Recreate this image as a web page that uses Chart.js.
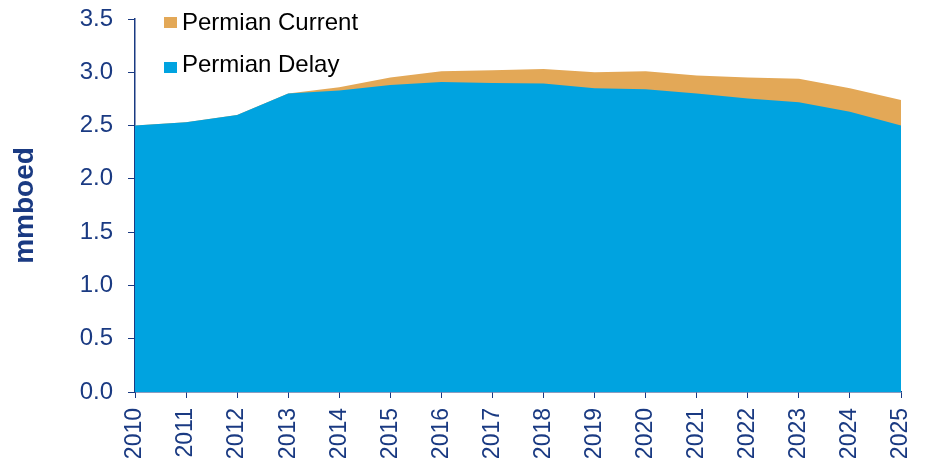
<!DOCTYPE html>
<html>
<head>
<meta charset="utf-8">
<script src="https://cdn.jsdelivr.net/npm/chart.js@4"></script>
<style>
  html, body { margin: 0; padding: 0; background: #fff; }
  #wrap { position: relative; width: 926px; height: 476px; }
  .leyenda { position: absolute; left: 164px; font-family: "Liberation Sans", Arial, sans-serif; font-size: 24px; color: #000; }
  .leyenda span.caja { position: absolute; left: 0; width: 13px; height: 11px; }
  .leyenda span.txt { position: absolute; left: 18px; white-space: nowrap; line-height: 26px; }
</style>
</head>
<body>
<div id="wrap">
  <canvas id="grafico" width="926" height="476"></canvas>
  <div class="leyenda" style="top:9px">
    <span class="caja" style="top:8px; background:#E3A857"></span>
    <span class="txt" style="top:0">Permian Current</span>
  </div>
  <div class="leyenda" style="top:51px">
    <span class="caja" style="top:11px; background:#00A3E0"></span>
    <span class="txt" style="top:0">Permian Delay</span>
  </div>
</div>
<script>
// Datos del gráfico
const anios = ['2010','2011','2012','2013','2014','2015','2016','2017','2018','2019','2020','2021','2022','2023','2024','2025'];
const permianCurrent = [2.50, 2.53, 2.60, 2.80, 2.86, 2.95, 3.01, 3.02, 3.03, 3.00, 3.01, 2.97, 2.95, 2.94, 2.85, 2.74];
const permianDelay = [2.50, 2.53, 2.60, 2.80, 2.83, 2.88, 2.91, 2.90, 2.895, 2.85, 2.84, 2.80, 2.755, 2.72, 2.63, 2.50];

const colorEje = '#1A3A82';
const fuente = '"Liberation Sans", Arial, sans-serif';

const ctx = document.getElementById('grafico').getContext('2d');
new Chart(ctx, {
    type: 'line',
    data: {
        labels: anios,
        datasets: [
            {
                label: 'Permian Delay',
                data: permianDelay,
                backgroundColor: '#00A3E0',
                borderWidth: 0,
                pointRadius: 0,
                fill: 'origin',
                tension: 0,
                order: 0
            },
            {
                label: 'Permian Current',
                data: permianCurrent,
                backgroundColor: '#E3A857',
                borderWidth: 0,
                pointRadius: 0,
                fill: 'origin',
                tension: 0,
                order: 1
            }
        ]
    },
    options: {
        responsive: false,
        animation: false,
        layout: { padding: { top: 19, right: 25, left: 0, bottom: 0 } },
        plugins: {
            legend: { display: false },
            tooltip: { enabled: false }
        },
        scales: {
            x: {
                offset: false,
                grid: {
                    display: true,
                    drawOnChartArea: false,
                    drawTicks: true,
                    tickLength: 6,
                    color: colorEje
                },
                border: { color: colorEje, width: 1.5 },
                ticks: {
                    color: colorEje,
                    font: { family: fuente, size: 23 },
                    maxRotation: 90,
                    minRotation: 90,
                    autoSkip: false,
                    padding: 10
                },
                afterFit: function(scale) {
                    scale.height = 84;
                    scale.paddingLeft = 0;
                    scale.paddingRight = 0;
                }
            },
            y: {
                min: 0,
                max: 3.5,
                grid: {
                    display: true,
                    drawOnChartArea: false,
                    drawTicks: true,
                    tickLength: 7,
                    color: colorEje
                },
                border: { color: colorEje, width: 1.5 },
                ticks: {
                    stepSize: 0.5,
                    color: colorEje,
                    font: { family: fuente, size: 24 },
                    padding: 15,
                    callback: function(v) { return v.toFixed(1); }
                },
                title: {
                    display: true,
                    text: 'mmboed',
                    color: colorEje,
                    font: { family: fuente, size: 28, weight: 'bold' },
                    padding: { top: 8, bottom: 0 }
                },
                afterFit: function(scale) {
                    scale.width = 135;
                    scale.paddingTop = 0;
                    scale.paddingBottom = 0;
                }
            }
        }
    }
});
</script>
</body>
</html>
